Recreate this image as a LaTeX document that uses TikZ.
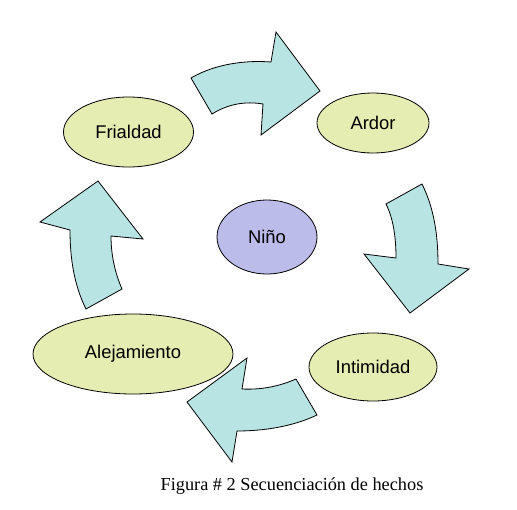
\documentclass[tikz,border=0pt]{standalone}
\usepackage{fontspec}
\setmainfont{Liberation Sans}
\newfontfamily\capfont{Liberation Serif}
\usetikzlibrary{shapes.geometric}
\definecolor{elfill}{RGB}{230,237,178}
\definecolor{ninofill}{RGB}{188,188,234}
\definecolor{arrfill}{RGB}{184,228,228}
\tikzset{
  stage/.style={ellipse, draw=black, line width=0.8pt, fill=elfill, inner sep=0pt,
    font=\fontsize{18.4}{22}\selectfont},
  center/.style={stage, fill=ninofill},
  bigarrow/.style={draw=black, line width=0.8pt, fill=arrfill, line join=miter}
}
\begin{document}
\begin{tikzpicture}[x=1pt,y=-1pt]
\useasboundingbox (0,0) rectangle (517,509);
% arrows
\draw[bigarrow] (191,78) .. controls (215,64) and (245,60) .. (271,62) -- (276,32) -- (320,91) -- (261,135) -- (263,104) .. controls (245,101) and (228,104) .. (212,114) -- cycle;
\draw[bigarrow] (386,204) -- (422,184) .. controls (434,208) and (438,235) .. (438,264) -- (469,269) -- (410,313) -- (364,254) -- (396,258) .. controls (396,240) and (394,220) .. (386,204) -- cycle;
\draw[bigarrow] (296,379) -- (317,415) .. controls (292,427) and (262,431) .. (237,431) -- (232,462) -- (187,402) -- (247,358) -- (242,389) .. controls (262,390) and (280,386) .. (296,379) -- cycle;
\draw[bigarrow] (122,289) -- (86,309) .. controls (74,285) and (70,258) .. (70,230) -- (40,222) -- (98,181) -- (143,239) -- (111,236) .. controls (111,255) and (115,273) .. (122,289) -- cycle;
% ellipses
\node[stage, minimum width=130pt, minimum height=70pt] (frialdad) at (128.5,132) {Frialdad};
\node[stage, minimum width=112pt, minimum height=60pt] (ardor) at (373,123) {Ardor};
\node[center, minimum width=100pt, minimum height=74pt] (nino) at (267,237) {Niño};
\node[stage, minimum width=128pt, minimum height=68pt] (intimidad) at (373,367) {Intimidad};
\node[stage, minimum width=200pt, minimum height=80pt] (alejamiento) at (133,354) {Alejamiento};
% caption
\node[font=\capfont\fontsize{18.3}{22}\selectfont, anchor=base] (caption) at (292,490) {Figura \# 2 Secuenciación de hechos};
\end{tikzpicture}
\end{document}
